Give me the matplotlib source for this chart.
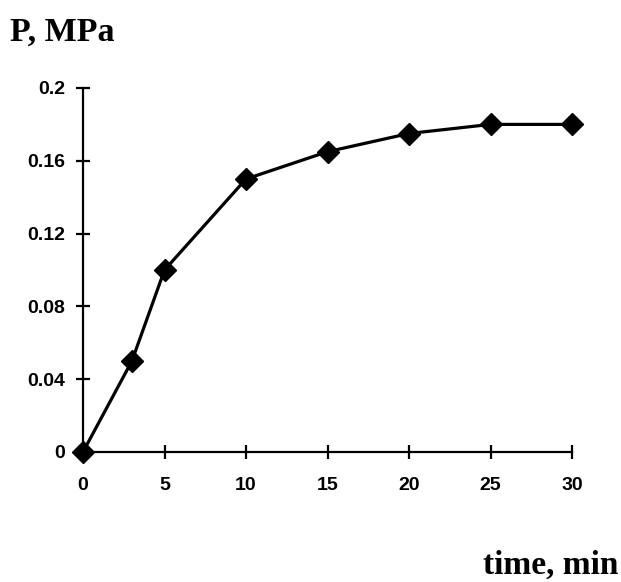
import matplotlib
matplotlib.use("Agg")
import matplotlib.pyplot as plt

time_min = [0, 3, 5, 10, 15, 20, 25, 30]
pressure_mpa = [0, 0.05, 0.10, 0.15, 0.165, 0.175, 0.18, 0.18]
x_ticks = [0, 5, 10, 15, 20, 25, 30]
y_ticks = [0, 0.04, 0.08, 0.12, 0.16, 0.2]
y_tick_labels = ["0", "0.04", "0.08", "0.12", "0.16", "0.2"]

fig = plt.figure(figsize=(6.21, 5.82), dpi=100)
ax = fig.add_axes([83/621, 1-452/582, (572-83)/621, (452-88)/582])

ax.plot(time_min, pressure_mpa, color="black", lw=2.3, marker="D", ms=11.5,
        markerfacecolor="black", markeredgecolor="black", clip_on=False, zorder=5)

ax.set_xlim(0, 30)
ax.set_ylim(0, 0.2)
ax.set_xticks(x_ticks)
ax.set_yticks(y_ticks)
ax.set_yticklabels(y_tick_labels)

for s in ["top", "right"]:
    ax.spines[s].set_visible(False)
for s in ["left", "bottom"]:
    ax.spines[s].set_linewidth(1.6)

ax.tick_params(axis="both", direction="inout", length=9.4, width=1.6)
ax.tick_params(axis="y", pad=8)
ax.tick_params(axis="x", pad=13.5)
for lab in ax.get_xticklabels() + ax.get_yticklabels():
    lab.set_fontfamily("Liberation Sans")
    lab.set_fontweight("bold")
    lab.set_fontsize(14)

fig.text(10/621, 1-32/582, "P, MPa", family="Liberation Serif", weight="bold",
         size=24.5, ha="left", va="center")
fig.text(618/621, 1-565/582, "time, min", family="Liberation Serif", weight="bold",
         size=24, ha="right", va="center")

fig.savefig("out.png", dpi=100)
